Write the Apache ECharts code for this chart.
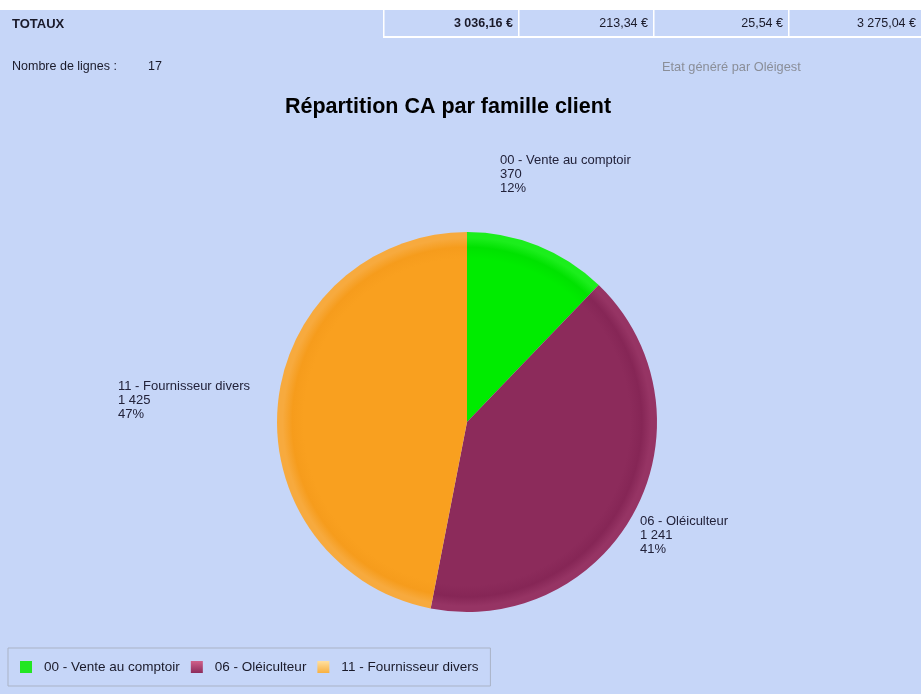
<!DOCTYPE html>
<html>
<head>
<meta charset="utf-8">
<script src="https://cdn.jsdelivr.net/npm/echarts@6/dist/echarts.min.js"></script>
<style>
html,body{margin:0;padding:0;background:#fff;}
#c{width:921px;height:694px;}
</style>
</head>
<body>
<div id="c"></div>
<script>
const categories = ['00 - Vente au comptoir', '06 - Oléiculteur', '11 - Fournisseur divers'];
const values = [370, 1241, 1425];
const totalsLabels = ['3 036,16 €', '213,34 €', '25,54 €', '3 275,04 €'];
const lineCount = '17';

const BG = '#c6d6f8';
const FONT = '"Liberation Sans", Arial, sans-serif';
const cx = 467, cy = 422, R = 190;

function grad(base, dark, light) {
  return {
    type: 'radial', x: cx, y: cy, r: R, global: true,
    colorStops: [
      {offset: 0, color: base},
      {offset: 0.86, color: base},
      {offset: 0.92, color: dark},
      {offset: 0.97, color: light},
      {offset: 1, color: light}
    ]
  };
}
const sliceColors = [
  grad('#00ec00', '#00e200', '#1cee1c'),
  grad('#8c2b5b', '#862656', '#963464'),
  grad('#f9a01f', '#f69c1c', '#f7aa3e')
];
const legendColors = [
  '#22e622',
  {type: 'linear', x: 0, y: 0, x2: 0, y2: 1, colorStops: [{offset: 0, color: '#d0608a'}, {offset: 1, color: '#8c2b5b'}]},
  {type: 'linear', x: 0, y: 0, x2: 0, y2: 1, colorStops: [{offset: 0, color: '#ffe0a0'}, {offset: 1, color: '#f8b040'}]}
];
const labelPos = [[500, 153], [640, 514], [118, 379]];

function fmtNum(v) {
  return String(v).replace(/\B(?=(\d{3})+(?!\d))/g, ' ');
}

const chart = echarts.init(document.getElementById('c'), null, {renderer: 'canvas'});

const cellX = [383, 518, 653, 788, 923];
const graphics = [
  {type: 'rect', shape: {x: 0, y: 0, width: 921, height: 10}, style: {fill: '#ffffff'}, z: 0},
  {type: 'text', x: 12, y: 24, style: {text: 'TOTAUX', font: 'bold 13px ' + FONT, fill: '#1a1a2a', textVerticalAlign: 'middle'}},
  {type: 'rect', shape: {x: 383, y: 36, width: 540, height: 2}, style: {fill: '#ffffff'}},
  {type: 'text', x: 12, y: 67, style: {text: 'Nombre de lignes :', font: '12.5px ' + FONT, fill: '#1a1a2a', textVerticalAlign: 'middle'}},
  {type: 'text', x: 148, y: 67, style: {text: lineCount, font: '12.5px ' + FONT, fill: '#1a1a2a', textVerticalAlign: 'middle'}},
  {type: 'text', x: 662, y: 67, style: {text: 'Etat généré par Oléigest', font: '12.8px ' + FONT, fill: '#8a8e98', textVerticalAlign: 'middle'}}
];
for (let i = 0; i < 4; i++) {
  graphics.push({type: 'rect', shape: {x: cellX[i], y: 10, width: 1.5, height: 27}, style: {fill: '#ffffff'}});
  graphics.push({type: 'text', x: cellX[i + 1] - 5 - (i === 3 ? 2 : 0), y: 24,
    style: {text: totalsLabels[i], font: (i === 0 ? 'bold ' : '') + '12.5px ' + FONT, fill: '#1a1a2a', textAlign: 'right', textVerticalAlign: 'middle'}});
}

chart.setOption({
  backgroundColor: BG,
  animation: false,
  title: {
    text: 'Répartition CA par famille client',
    left: 443, textAlign: 'center', top: 91,
    textStyle: {fontFamily: FONT, fontSize: 21.5, fontWeight: 'bold', color: '#000'}
  },
  graphic: graphics,
  legend: {
    left: 8, top: 648,
    orient: 'horizontal',
    padding: [12, 12, 12, 12],
    borderColor: '#aab3c6', borderWidth: 1,
    itemWidth: 12, itemHeight: 12, itemGap: 11,
    icon: 'rect',
    textStyle: {fontFamily: FONT, fontSize: 13.5, color: '#1a1a2a', padding: [0, 0, 0, 7]},
    data: categories.map((c, i) => ({name: c, itemStyle: {color: legendColors[i]}}))
  },
  series: [{
    type: 'pie',
    center: [cx, cy],
    radius: R,
    startAngle: 90,
    clockwise: true,
    percentPrecision: 0,
    silent: true,
    data: categories.map((c, i) => ({name: c, value: values[i], itemStyle: {color: sliceColors[i]}})),
    label: {
      show: true, position: 'outside',
      fontFamily: FONT, fontSize: 13, lineHeight: 14, color: '#22223a',
      align: 'left',
      formatter: p => p.name + '\n' + fmtNum(p.value) + '\n' + Math.round(p.percent) + '%'
    },
    labelLine: {show: false},
    labelLayout: p => ({x: labelPos[p.dataIndex][0], y: labelPos[p.dataIndex][1], align: 'left', verticalAlign: 'top'})
  }]
});
</script>
</body>
</html>
